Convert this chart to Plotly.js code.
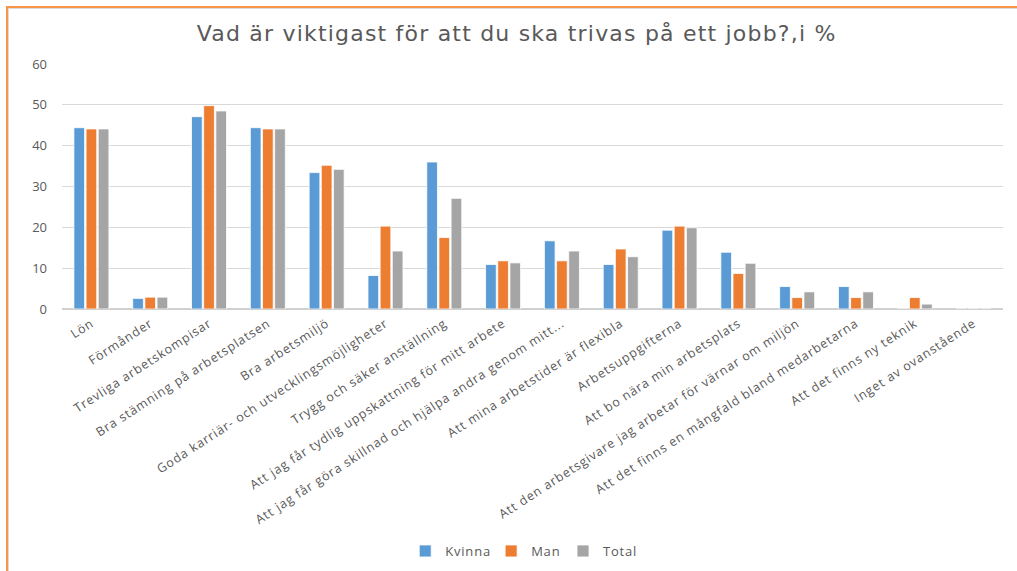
<!DOCTYPE html>
<html>
<head>
<meta charset="utf-8">
<script src="https://cdn.plot.ly/plotly-3.0.1.min.js"></script>
<style>
  html, body { margin: 0; padding: 0; background: #ffffff; overflow: hidden; }
  #chart { width: 1017px; height: 571px; position: absolute; left: 0; top: 0; }
  #frame { position: absolute; left: 6px; top: 6px; width: 1100px; height: 700px;
           border-top: 2px solid #F79646; border-left: 2px solid #F79646; pointer-events: none; }
  #inner { position: absolute; left: 8px; top: 8px; width: 1100px; height: 700px;
           border-top: 1px solid #dcdcdc; border-left: 1px solid #dcdcdc; pointer-events: none; }
  #chart .gtitle { letter-spacing: 1.2px; }
  #chart .xtick text { letter-spacing: 0.9px; }
  #chart .legendtext { letter-spacing: 0.8px; }
</style>
</head>
<body>
<div id="chart"></div>
<div id="frame"></div>
<div id="inner"></div>
<script>
const categories = [
  "Lön",
  "Förmånder",
  "Trevliga arbetskompisar",
  "Bra stämning på arbetsplatsen",
  "Bra arbetsmiljö",
  "Goda karriär- och utvecklingsmöjligheter",
  "Trygg och säker anställning",
  "Att jag får tydlig uppskattning för mitt arbete",
  "Att jag får göra skillnad och hjälpa andra genom mitt...",
  "Att mina arbetstider är flexibla",
  "Arbetsuppgifterna",
  "Att bo nära min arbetsplats",
  "Att den arbetsgivare jag arbetar för värnar om miljön",
  "Att det finns en mångfald bland medarbetarna",
  "Att det finns ny teknik",
  "Inget av ovanstående"
];
const kvinna = [44.4, 2.6, 47.1, 44.4, 33.4, 8.2, 36.0, 10.9, 16.7, 10.9, 19.3, 13.9, 5.5, 5.5, 0, 0];
const man    = [44.1, 2.9, 49.8, 44.1, 35.2, 20.3, 17.5, 11.8, 11.8, 14.7, 20.3, 8.7, 2.8, 2.8, 2.8, 0];
const total  = [44.1, 2.9, 48.5, 44.1, 34.2, 14.2, 27.1, 11.3, 14.2, 12.8, 19.9, 11.2, 4.2, 4.2, 1.2, 0];
const yTicks = [0, 10, 20, 30, 40, 50, 60];

const seriesNames = ["Kvinna", "Man", "Total"];
const seriesColors = ["#5B9BD5", "#ED7D31", "#A5A5A5"];
const seriesValues = [kvinna, man, total];

const traces = seriesValues.map((vals, i) => ({
  type: "bar",
  name: seriesNames[i],
  x: categories,
  y: vals,
  marker: { color: seriesColors[i], line: { color: "#ffffff", width: 0.8 } },
  hoverinfo: "x+y+name"
}));

const layout = {
  width: 1017,
  height: 571,
  paper_bgcolor: "rgba(0,0,0,0)",
  plot_bgcolor: "rgba(0,0,0,0)",
  margin: { l: 62, r: 14, t: 64, b: 262, pad: 0, autoexpand: false },
  title: {
    text: "Vad är viktigast för att du ska trivas på ett jobb?,i %",
    font: { family: "DejaVu Sans, sans-serif", size: 22, color: "#595959" },
    x: 0.508, xanchor: "center", xref: "container",
    y: 0.942, yanchor: "middle", yref: "container"
  },
  barmode: "group",
  bargap: 0.38,
  bargroupgap: 0.12,
  showlegend: true,
  legend: {
    orientation: "h",
    x: 0.513, xanchor: "center", xref: "container",
    y: 0.035, yanchor: "middle", yref: "container",
    font: { family: "Open Sans, DejaVu Sans, sans-serif", size: 13, color: "#595959" },
    itemwidth: 30,
    traceorder: "normal"
  },
  xaxis: {
    type: "category",
    tickangle: -33,
    tickfont: { family: "Open Sans, DejaVu Sans, sans-serif", size: 12.5, color: "#595959" },
    showgrid: false,
    showline: false,
    zeroline: false,
    ticks: "",
    ticklabelstandoff: 4,
    automargin: false,
    fixedrange: true
  },
  yaxis: {
    range: [0, 60],
    tickvals: yTicks,
    ticktext: yTicks.map(String),
    tickfont: { family: "Open Sans, DejaVu Sans, sans-serif", size: 13, color: "#595959" },
    showgrid: true,
    gridcolor: "#d9d9d9",
    gridwidth: 1,
    zeroline: true,
    zerolinecolor: "#d0d0d0",
    zerolinewidth: 1.5,
    showline: false,
    ticks: "",
    ticklabelstandoff: 14,
    automargin: false,
    fixedrange: true
  }
};

Plotly.newPlot("chart", traces, layout, { displayModeBar: false, staticPlot: true });
</script>
</body>
</html>
